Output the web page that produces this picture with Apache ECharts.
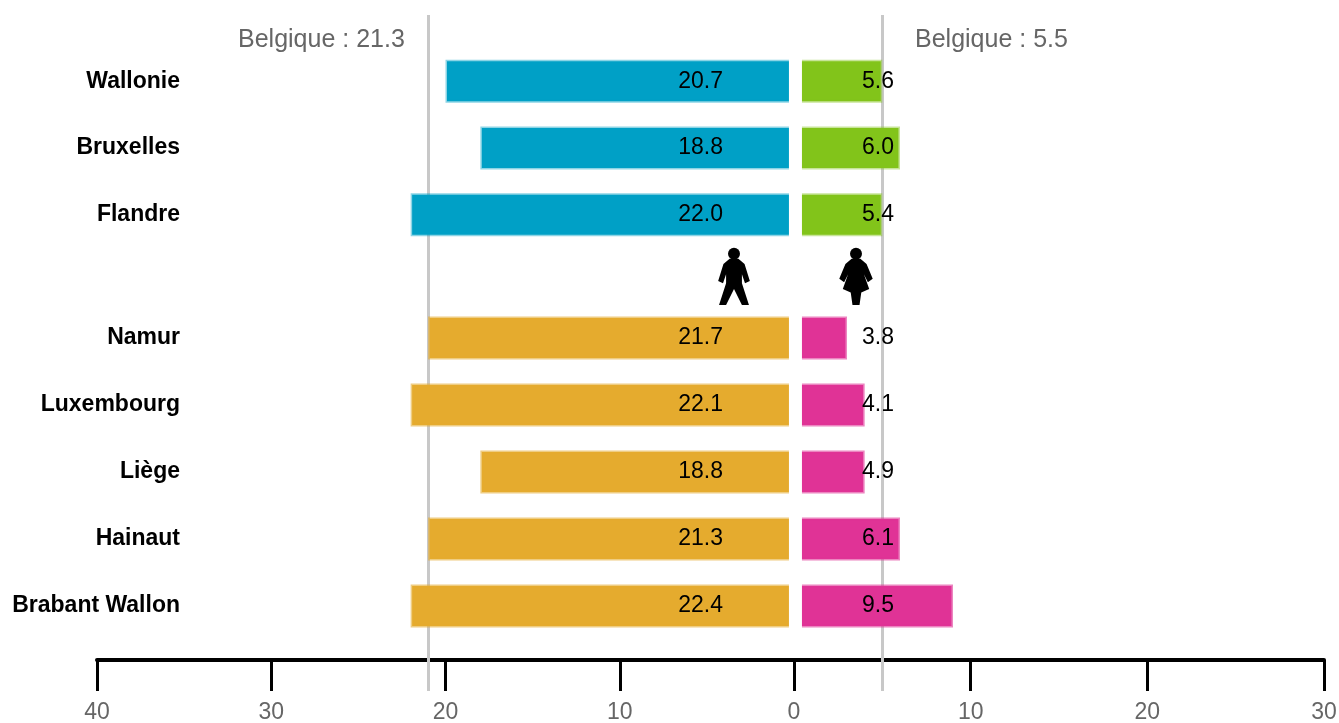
<!DOCTYPE html>
<html>
<head>
<meta charset="utf-8">
<title>Belgique</title>
<script src="https://cdn.jsdelivr.net/npm/echarts@6/dist/echarts.min.js"></script>
<style>
html, body { margin: 0; padding: 0; background: #fff; }
#chart { width: 1339px; height: 723px; }
</style>
</head>
<body>
<div id="chart"></div>
<script type="text/javascript">
var regionNames = ['Wallonie', 'Bruxelles', 'Flandre'];
var regionMenLabels = [20.7, 18.8, 22.0];
var regionWomenLabels = [5.6, 6.0, 5.4];
// the bars in the picture are drawn to whole units, shorter than their labels
var regionMenBars = [20, 18, 22];
var regionWomenBars = [5, 6, 5];

var provinceNames = ['Namur', 'Luxembourg', 'Liège', 'Hainaut', 'Brabant Wallon'];
var provinceMenLabels = [21.7, 22.1, 18.8, 21.3, 22.4];
var provinceWomenLabels = [3.8, 4.1, 4.9, 6.1, 9.5];
var provinceMenBars = [21, 22, 18, 21, 22];
var provinceWomenBars = [3, 4, 4, 6, 9];

var belgiqueMen = 21.3;
var belgiqueWomen = 5.5;
var belgiqueMenLine = 21;
var belgiqueWomenLine = 5;

var FONT = '"Liberation Sans", sans-serif';
var LEFT_X = 97, ZERO_X = 794, RIGHT_X = 1324;

var chart = echarts.init(document.getElementById('chart'));

function hiddenX(grid, inverse, max) {
	return { gridIndex: grid, type: 'value', inverse: inverse, min: 0, max: max, show: false };
}
function catY(grid, names, showLabels) {
	return {
		gridIndex: grid, type: 'category', inverse: true, data: names, position: 'left',
		axisLine: { show: false }, axisTick: { show: false }, splitLine: { show: false },
		axisLabel: {
			show: showLabels, margin: -83, align: 'right', color: '#000',
			fontFamily: FONT, fontSize: 23, fontWeight: 'bold', interval: 0
		}
	};
}
function barSeries(grid, bars, labels, color, edge, side) {
	var left = side === 'left';
	return {
		type: 'bar', xAxisIndex: grid, yAxisIndex: grid, data: bars, barWidth: 43, z: 3,
		itemStyle: { color: color, borderColor: edge, borderWidth: 3 },
		label: {
			show: true, color: '#000', fontFamily: FONT, fontSize: 23,
			position: left ? 'insideRight' : 'insideLeft', distance: left ? 71 : 68,
			formatter: function (p) { return labels[p.dataIndex].toFixed(1); }
		},
		labelLayout: { hideOverlap: false },
		markArea: {
			silent: true, z: 4, itemStyle: { color: '#fff' },
			data: [[{ xAxis: 0 }, { xAxis: left ? 0.29 : 0.45 }]]
		}
	};
}
function scaleX(grid, inverse, max, showZero) {
	return {
		gridIndex: grid, type: 'value', inverse: inverse, min: 0, max: max, interval: 10,
		position: 'bottom', offset: -31,
		axisLine: { show: true, onZero: false, lineStyle: { color: '#000', width: 4 } },
		axisTick: { show: true, length: 31, lineStyle: { color: '#000', width: 3 } },
		splitLine: { show: false },
		axisLabel: {
			margin: 41, color: '#666', fontFamily: FONT, fontSize: 23,
			// both halves meet at 0, only one of them prints it
			formatter: function (v) { return v === 0 && !showZero ? '' : String(v); }
		}
	};
}
function refLine(grid, value) {
	return {
		type: 'line', xAxisIndex: grid, yAxisIndex: grid, data: [], z: 1,
		markLine: {
			silent: true, symbol: 'none', z: 1, animation: false,
			label: { show: false },
			lineStyle: { color: '#c8c8c8', width: 3, type: 'solid' },
			data: [{ xAxis: value }]
		}
	};
}
function hiddenY(grid) {
	return { gridIndex: grid, type: 'value', min: 0, max: 1, show: false };
}
function gridBox(left, right, top, height) {
	return { left: left, width: right - left, top: top, height: height, outerBoundsMode: 'none' };
}

// pictograms: outline points in a 100 x 100 box, head drawn apart
var manBody = [[40, 19], [60, 19], [74, 28], [86, 58], [75, 62], [68, 46], [68, 62], [84, 100], [68, 100], [50, 72], [32, 100], [16, 100], [32, 62], [32, 46], [25, 62], [14, 58], [26, 28]];
var womanBody = [[40, 19], [60, 19], [74, 28], [88, 54], [77, 60], [68, 46], [80, 72], [62, 78], [58, 100], [42, 100], [38, 78], [20, 72], [32, 46], [23, 60], [12, 54], [26, 28]];

function pictogram(body, x, y, w, h) {
	return {
		type: 'group', z: 10,
		children: [
			{
				type: 'polygon', z: 10,
				shape: { points: body.map(function (p) { return [x + p[0] * w / 100, y + p[1] * h / 100]; }) },
				style: { fill: '#000' }
			},
			{
				type: 'circle', z: 10,
				shape: { cx: x + w / 2, cy: y + h * 0.1, r: h * 0.105 },
				style: { fill: '#000' }
			}
		]
	};
}

var option = {
	animation: false,
	backgroundColor: '#fff',
	grid: [
		gridBox(LEFT_X, ZERO_X, 48, 200),
		gridBox(ZERO_X, RIGHT_X, 48, 200),
		gridBox(LEFT_X, ZERO_X, 304.5, 335),
		gridBox(ZERO_X, RIGHT_X, 304.5, 335),
		gridBox(LEFT_X, ZERO_X, 15, 676),
		gridBox(ZERO_X, RIGHT_X, 15, 676)
	],
	xAxis: [
		hiddenX(0, true, 40), hiddenX(1, false, 30), hiddenX(2, true, 40), hiddenX(3, false, 30),
		scaleX(4, true, 40, false), scaleX(5, false, 30, true)
	],
	yAxis: [
		catY(0, regionNames, true), catY(1, regionNames, false),
		catY(2, provinceNames, true), catY(3, provinceNames, false),
		hiddenY(4), hiddenY(5)
	],
	series: [
		refLine(4, belgiqueMenLine),
		refLine(5, belgiqueWomenLine),
		barSeries(0, regionMenBars, regionMenLabels, '#00a0c6', 'rgba(0,160,198,0.45)', 'left'),
		barSeries(1, regionWomenBars, regionWomenLabels, '#82c41a', 'rgba(130,196,26,0.45)', 'right'),
		barSeries(2, provinceMenBars, provinceMenLabels, '#e5ab2e', 'rgba(229,171,46,0.6)', 'left'),
		barSeries(3, provinceWomenBars, provinceWomenLabels, '#e03396', 'rgba(224,51,150,0.6)', 'right')
	],
	graphic: [
		{
			type: 'text', left: 238, top: 28, z: 10,
			style: { text: 'Belgique : ' + belgiqueMen.toFixed(1), fill: '#666', font: '25px "Liberation Sans", sans-serif' }
		},
		{
			type: 'text', left: 915, top: 28, z: 10,
			style: { text: 'Belgique : ' + belgiqueWomen.toFixed(1), fill: '#666', font: '25px "Liberation Sans", sans-serif' }
		},
		pictogram(manBody, 712, 248, 44, 57),
		pictogram(womanBody, 834, 248, 44, 57)
	]
};
chart.setOption(option);
window.onresize = function () {
	chart.resize();
};
</script>
</body>
</html>
